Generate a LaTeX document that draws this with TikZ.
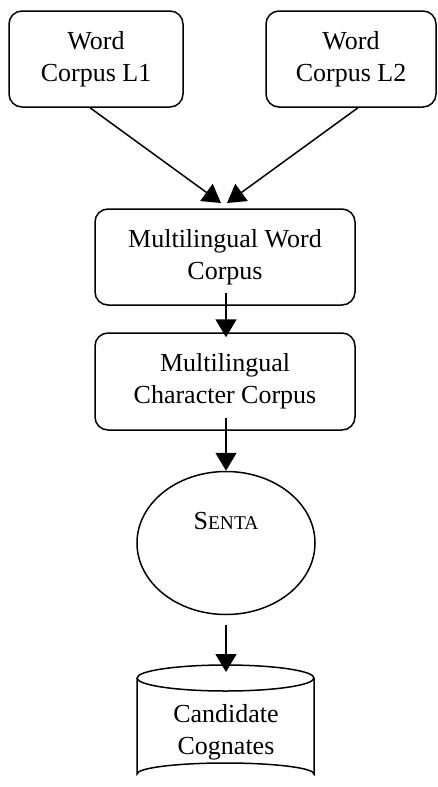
\documentclass[tikz,border=0pt]{standalone}
\usepackage{fontspec}
\setmainfont{Liberation Serif}
\usetikzlibrary{arrows.meta,shapes.geometric}
\begin{document}
\begin{tikzpicture}[x=1pt,y=-1pt,
  every node/.style={font=\fontsize{26}{32}\selectfont, align=center, inner sep=0pt},
  rbox/.style={draw, line width=1.5pt, rounded corners=13pt},
  conn/.style={line width=1.5pt, -{Triangle[length=18pt,width=21pt]}}]
\useasboundingbox (0,0) rectangle (437,787);
% boxes
\node[rbox, minimum width=174pt, minimum height=96pt] (l1) at (96,59) {Word\\Corpus L1};
\node[rbox, minimum width=170pt, minimum height=96pt] (l2) at (351,59) {Word\\Corpus L2};
\node[rbox, minimum width=260pt, minimum height=96pt] (mw) at (225,257) {Multilingual Word\\Corpus};
\node[rbox, minimum width=260pt, minimum height=97pt] (mc) at (225,381.5) {Multilingual\\Character Corpus};
\node[draw, ellipse, line width=1.5pt, minimum width=178pt, minimum height=143pt] (senta) at (226,543) {};
\node (sentatext) at (226,521) {S{\fontsize{19.5}{24}\selectfont ENTA}};
% cylinder
\draw[line width=1.5pt] (137,678) arc[start angle=180, end angle=-180, x radius=88.5, y radius=13];
\draw[line width=1.5pt] (137,678) -- (137,774) arc[start angle=180, end angle=360, x radius=88.5, y radius=11] -- (314,678);
\coordinate (cyltop) at (226,665);
\node (cc) at (226,732) {Candidate\\Cognates};
% connectors
\coordinate (t1) at (221,203);
\coordinate (t2) at (227,203);
\draw[conn] ([xshift=-6pt]l1.south) -- (t1);
\draw[conn] ([xshift=7pt]l2.south) -- (t2);
\draw[conn] ([xshift=1pt,yshift=13pt]mw.south) -- ([xshift=1pt,yshift=-5pt]mc.north);
\draw[conn] ([xshift=1pt,yshift=13pt]mc.south) -- (senta.north);
\draw[conn] ([yshift=-10pt]senta.south) -- ([yshift=-7pt]cyltop);
\end{tikzpicture}
\end{document}
